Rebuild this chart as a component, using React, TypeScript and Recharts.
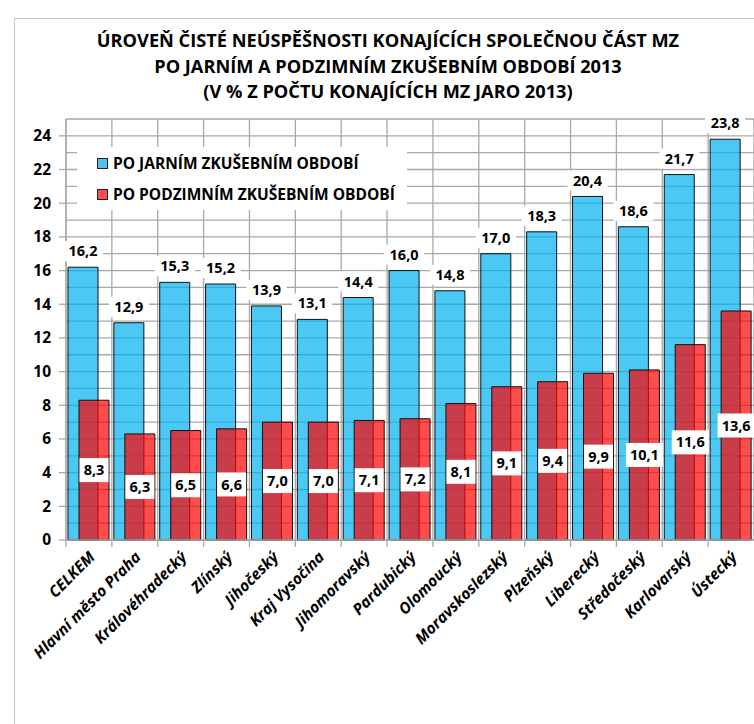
import React from "react"
import { BarChart, Bar, XAxis, YAxis, CartesianGrid, Legend, LabelList } from "recharts"

const regions = [
  "CELKEM",
  "Hlavní město Praha",
  "Královéhradecký",
  "Zlínský",
  "Jihočeský",
  "Kraj Vysočina",
  "Jihomoravský",
  "Pardubický",
  "Olomoucký",
  "Moravskoslezský",
  "Plzeňský",
  "Liberecký",
  "Středočeský",
  "Karlovarský",
  "Ústecký",
]
const springValues = [16.2, 12.9, 15.3, 15.2, 13.9, 13.1, 14.4, 16.0, 14.8, 17.0, 18.3, 20.4, 18.6, 21.7, 23.8]
const autumnValues = [8.3, 6.3, 6.5, 6.6, 7.0, 7.0, 7.1, 7.2, 8.1, 9.1, 9.4, 9.9, 10.1, 11.6, 13.6]
const yTicks = [0, 1, 2, 3, 4, 5, 6, 7, 8, 9, 10, 11, 12, 13, 14, 15, 16, 17, 18, 19, 20, 21, 22, 23, 24, 25]
const titleLines = [
  "ÚROVEŇ ČISTÉ NEÚSPĚŠNOSTI KONAJÍCÍCH SPOLEČNOU ČÁST MZ",
  "PO JARNÍM A PODZIMNÍM ZKUŠEBNÍM OBDOBÍ 2013",
  "(V % Z POČTU KONAJÍCÍCH MZ JARO 2013)",
]
const seriesNames = ["PO JARNÍM ZKUŠEBNÍM OBDOBÍ", "PO PODZIMNÍM ZKUŠEBNÍM OBDOBÍ"]

const data = regions.map((name, i) => ({ name, jaro: springValues[i], podzim: autumnValues[i] }))

const FONT = "'Open Sans', sans-serif"
const GRID = "#a9a9a9"
const W = 746
const H = 716
const LEFT = 58
const BAND = (W - LEFT) / regions.length

const fmt = (v: number) => Number(v).toFixed(1).replace(".", ",")

function YTick(props: any) {
  const { x, y, payload } = props
  if (payload.value % 2 !== 0 || payload.value > 24) return null
  return (
    <g>
      <line x1={x + 8} x2={x + 15} y1={y} y2={y} stroke={GRID} strokeWidth={1.3} />
      <text x={x} y={y} dy="0.35em" textAnchor="end" fontFamily={FONT} fontWeight={700} fontSize={15.5} fill="#000">
        {payload.value}
      </text>
    </g>
  )
}

function XTick(props: any) {
  const { x, y, payload } = props
  const left = x - BAND / 2
  return (
    <g>
      <line x1={left} x2={left} y1={y - 10} y2={y - 3} stroke={GRID} strokeWidth={1.3} />
      <text
        x={x + 7}
        y={y + 8}
        textAnchor="end"
        transform={`rotate(-45 ${x + 7} ${y + 8})`}
        fontFamily={FONT}
        fontWeight={700}
        fontStyle="italic"
        fontSize={15.5}
        fill="#000"
      >
        {payload.value}
      </text>
    </g>
  )
}

function TopLabel(props: any) {
  const { x, y, width, value } = props
  const cx = x + width / 2
  const cy = y - 16
  const txt = fmt(value)
  const w = txt.length * 8 + 8
  return (
    <g>
      <rect x={cx - w / 2} y={cy - 10} width={w} height={20} fill="#fff" />
      <text x={cx} y={cy} dy="0.35em" textAnchor="middle" fontFamily={FONT} fontWeight={700} fontSize={14.5} fill="#000">
        {txt}
      </text>
    </g>
  )
}

function CenterLabel(props: any) {
  const { x, y, width, height, value } = props
  const cx = x + width / 2
  const cy = y + height / 2
  const txt = fmt(value)
  const w = txt.length * 8 + 5
  return (
    <g>
      <rect x={cx - w / 2} y={cy - 12} width={w} height={24} fill="#fff" />
      <text x={cx} y={cy} dy="0.35em" textAnchor="middle" fontFamily={FONT} fontWeight={700} fontSize={14.5} fill="#000">
        {txt}
      </text>
    </g>
  )
}

function LegendBox() {
  const colors = ["#4dc4f0", "#ff4d4d"]
  return (
    <div style={{ width: 330, height: 63, background: "#fff", position: "relative", fontFamily: FONT }}>
      {seriesNames.map((n, i) => (
        <div
          key={n}
          style={{
            position: "absolute",
            left: 20,
            top: 16 + i * 31 - 10,
            height: 20,
            display: "flex",
            alignItems: "center",
            fontWeight: 700,
            fontSize: 15.5,
            whiteSpace: "nowrap",
          }}
        >
          <span
            style={{
              width: 9,
              height: 9,
              background: colors[i],
              border: "1px solid #222",
              marginRight: 5,
              display: "inline-block",
            }}
          />
          {n}
        </div>
      ))}
    </div>
  )
}

export default function App() {
  return (
    <div style={{ position: "relative", width: 754, height: 724, overflow: "hidden", background: "#fff" }}>
      <style>{"html, body { margin: 0; padding: 0; overflow: hidden; }"}</style>
      <div
        style={{
          position: "absolute",
          left: 14,
          top: 18,
          width: 800,
          height: 800,
          border: "1.5px solid #c4c4c4",
        }}
      />
      <div
        style={{
          position: "absolute",
          left: 8,
          top: 28,
          width: 760,
          textAlign: "center",
          fontFamily: FONT,
          fontWeight: 700,
          fontSize: 18.2,
          lineHeight: "25.5px",
        }}
      >
        {titleLines.map((t) => (
          <div key={t}>{t}</div>
        ))}
      </div>
      <div style={{ position: "absolute", left: 8, top: 8 }}>
        <BarChart
          width={W}
          height={H}
          data={data}
          margin={{ top: 111, right: 0, left: 0, bottom: 84 }}
          barSize={30}
          barGap={-19}
        >
          <CartesianGrid
            stroke={GRID}
            strokeWidth={1.3}
            verticalCoordinatesGenerator={({ offset }: any) =>
              regions.map((_, i) => offset.left + i * (offset.width / regions.length)).concat([offset.left + offset.width])
            }
          />
          <XAxis
            dataKey="name"
            interval={0}
            height={100}
            tickLine={false}
            axisLine={{ stroke: GRID, strokeWidth: 1.3 }}
            tick={<XTick />}
            tickSize={6}
            tickMargin={4}
          />
          <YAxis
            domain={[0, 25]}
            ticks={yTicks}
            width={LEFT}
            tickLine={false}
            tickSize={7}
            tickMargin={8}
            axisLine={{ stroke: GRID, strokeWidth: 1.3 }}
            tick={<YTick />}
            interval={0}
          />
          <Legend
            content={<LegendBox />}
            layout="horizontal"
            verticalAlign="middle"
            align="center"
            wrapperStyle={{ position: "absolute", left: 69, top: 139, width: 330, height: 63 }}
          />
          <Bar dataKey="jaro" fill="#00b0f0" fillOpacity={0.7} stroke="#111" strokeWidth={1} isAnimationActive={false}>
            <LabelList dataKey="jaro" content={<TopLabel />} />
          </Bar>
          <Bar dataKey="podzim" fill="#ff0000" fillOpacity={0.7} stroke="#111" strokeWidth={1} isAnimationActive={false}>
            <LabelList dataKey="podzim" content={<CenterLabel />} />
          </Bar>
        </BarChart>
      </div>
    </div>
  )
}
